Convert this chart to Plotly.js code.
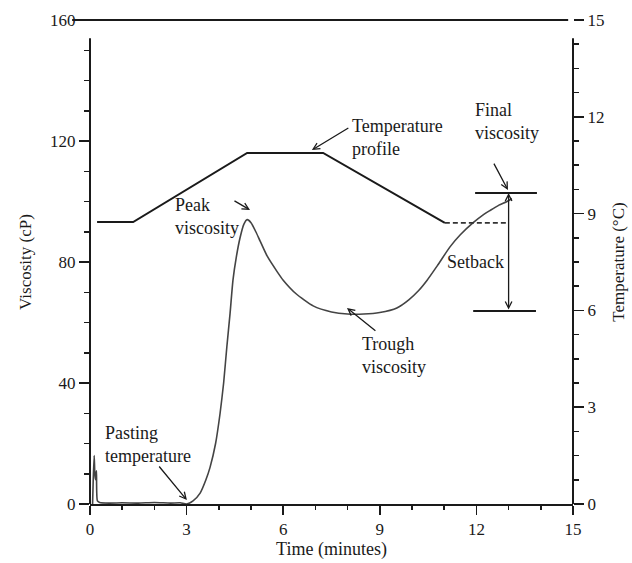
<!DOCTYPE html>
<html>
<head>
<meta charset="utf-8">
<script src="https://cdn.plot.ly/plotly-3.0.1.min.js"></script>
<style>html,body{margin:0;padding:0;background:#fff;}#chart{width:632px;height:563px;}</style>
</head>
<body>
<div id="chart"></div>
<script>
// Viscosity curve (RVA pasting curve)
const viscTime = [0.08, 0.1, 0.13, 0.15, 0.17, 0.2, 0.23, 0.3, 0.6, 1.0, 1.5, 2.0, 2.5, 2.8, 3.0, 3.2, 3.42, 3.6, 3.73, 3.9, 4.04, 4.15, 4.25, 4.35, 4.44, 4.55, 4.66, 4.78, 4.88, 5.0, 5.15, 5.28, 5.5, 5.8, 6.0, 6.4, 6.93, 7.5, 8.0, 8.5, 9.0, 9.53, 9.9, 10.2, 10.47, 10.8, 11.18, 11.5, 11.9, 12.2, 12.42, 12.7, 12.95, 13.1];
const viscValue = [0, 8, 16, 10, 8, 11, 1, 0.5, 0.3, 0.4, 0.3, 0.5, 0.3, 0.4, 0, 1, 3.6, 8, 12.2, 20, 30, 40, 52, 63, 74, 82, 88, 92.5, 94, 93, 90, 87, 82, 77, 74, 69.5, 65.5, 63.5, 62.8, 62.8, 63.3, 64.8, 67.5, 70.5, 74, 79, 85, 89, 93, 95.5, 97, 98.8, 100, 101];

// Temperature profile
const tempTime = [0.22, 1.34, 4.88, 7.24, 11.02];
const tempValue = [8.74, 8.74, 10.88, 10.88, 8.71];
const tempHoldTime = [11.02, 12.98];
const tempHoldValue = [8.71, 8.71];

// Reference levels for setback
const finalViscosity = 102.8;
const setbackBase = 63.8;
const setbackTime = 13.0;
const levelSpanFinal = [11.96, 13.88];
const levelSpanBase = [11.9, 13.85];

// Tick labels
const xTicks = [0, 3, 6, 9, 12, 15];
const yTicks = [0, 40, 80, 120, 160];
const y2Ticks = [0, 3, 6, 9, 12, 15];

const FONT = 'Liberation Serif, Times New Roman, serif';
const INK = '#1a1a1a';

const traces = [
  {x: viscTime, y: viscValue, type: 'scatter', mode: 'lines', line: {color: '#444', width: 1.6, shape: 'spline', smoothing: 0.6}, yaxis: 'y', hoverinfo: 'skip'},
  {x: tempTime, y: tempValue, type: 'scatter', mode: 'lines', line: {color: INK, width: 2}, yaxis: 'y2', hoverinfo: 'skip'},
  {x: tempHoldTime, y: tempHoldValue, type: 'scatter', mode: 'lines', line: {color: '#333', width: 1.8, dash: '5px,3px'}, yaxis: 'y2', hoverinfo: 'skip'}
];

const tickFont = {family: FONT, size: 17, color: INK};
const annFont = {family: FONT, size: 18, color: INK};

function textAnn(x, y, text) {
  return {x: x, y: y, xref: 'x', yref: 'y', text: text, showarrow: false, xanchor: 'left', align: 'left', font: annFont};
}
function arrowAnn(x, y, ax, ay, extra) {
  return Object.assign({x: x, y: y, ax: ax, ay: ay, xref: 'x', yref: 'y', axref: 'x', ayref: 'y', text: '', showarrow: true, arrowhead: 5, arrowsize: 1, arrowwidth: 1.3, arrowcolor: INK, standoff: 0}, extra || {});
}

const layout = {
  width: 632, height: 563,
  margin: {l: 90, r: 59, t: 20, b: 59},
  paper_bgcolor: '#fff', plot_bgcolor: '#fff',
  showlegend: false,
  font: {family: FONT, color: INK},
  xaxis: {
    range: [0, 15], tickvals: xTicks, ticktext: xTicks.map(String),
    ticks: 'outside', ticklen: 9, tickwidth: 1.5, tickcolor: INK,
    minor: {tick0: 0, dtick: 1, ticks: 'outside', ticklen: 4, tickwidth: 1.5, tickcolor: INK},
    showline: true, linewidth: 2, linecolor: INK, mirror: false,
    showgrid: false, zeroline: false, tickfont: tickFont,
    title: {text: 'Time (minutes)', font: {family: FONT, size: 18, color: INK}, standoff: 4}
  },
  yaxis: {
    range: [0, 160], tickvals: yTicks, ticktext: yTicks.map(String),
    ticks: 'outside', ticklen: 10, tickwidth: 1.5, tickcolor: INK,
    minor: {tick0: 0, dtick: 10, ticks: 'outside', ticklen: 5, tickwidth: 1.5, tickcolor: INK},
    showline: false, showgrid: false, zeroline: false, tickfont: tickFont,
    title: {text: 'Viscosity (cP)', font: {family: FONT, size: 17, color: INK}, standoff: 14}
  },
  yaxis2: {
    overlaying: 'y', side: 'right',
    range: [0, 15], tickvals: y2Ticks, ticktext: y2Ticks.map(String),
    ticks: 'outside', ticklen: 10, tickwidth: 1.5, tickcolor: INK,
    minor: {tick0: 0, dtick: 0.75, ticks: 'outside', ticklen: 5, tickwidth: 1.5, tickcolor: INK},
    showline: false, showgrid: false, zeroline: false, tickfont: tickFont,
    title: {text: 'Temperature (°C)', font: {family: FONT, size: 17, color: INK}, standoff: 8}
  },
  shapes: [
    // left & right axis lines
    {type: 'line', xref: 'paper', yref: 'paper', x0: 0, x1: 0, y0: 0, y1: 154 / 160, line: {color: INK, width: 2}},
    {type: 'line', xref: 'paper', yref: 'paper', x0: 1, x1: 1, y0: 0, y1: 154 / 160, line: {color: INK, width: 2}},
    // top frame line
    {type: 'line', xref: 'paper', yref: 'paper', x0: -0.037, x1: 0.99, y0: 1, y1: 1, line: {color: INK, width: 2}},
    // final viscosity and setback base levels
    {type: 'line', xref: 'x', yref: 'y', x0: levelSpanFinal[0], x1: levelSpanFinal[1], y0: finalViscosity, y1: finalViscosity, line: {color: INK, width: 2}},
    {type: 'line', xref: 'x', yref: 'y', x0: levelSpanBase[0], x1: levelSpanBase[1], y0: setbackBase, y1: setbackBase, line: {color: INK, width: 2}}
  ],
  annotations: [
    textAnn(8.07, 121.2, 'Temperature<br>profile'),
    arrowAnn(6.89, 117, 8.07, 124.6),
    textAnn(11.9, 126.4, 'Final<br>viscosity'),
    arrowAnn(12.98, 103.8, 12.52, 113),
    textAnn(2.58, 95, 'Peak<br>viscosity'),
    arrowAnn(4.97, 97.2, 4.44, 100.5),
    {x: 11.96, y: 80, xref: 'x', yref: 'y', text: 'Setback', showarrow: false, font: annFont},
    textAnn(8.39, 49.1, 'Trough<br>viscosity'),
    arrowAnn(7.98, 64.8, 8.91, 56.9),
    textAnn(0.4, 19.8, 'Pasting<br>temperature'),
    arrowAnn(3.01, 1.3, 2.11, 12.9),
    arrowAnn(setbackTime, finalViscosity, setbackTime, setbackBase, {arrowside: 'end+start', startarrowhead: 5, startarrowsize: 1})
  ]
};

Plotly.newPlot('chart', traces, layout, {staticPlot: true, displayModeBar: false});
</script>
</body>
</html>
